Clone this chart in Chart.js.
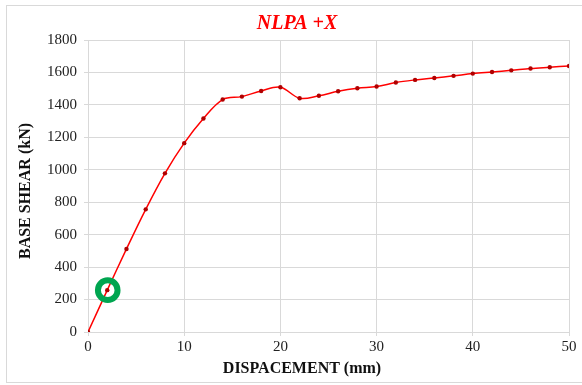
<!DOCTYPE html>
<html>
<head>
<meta charset="utf-8">
<script src="https://cdn.jsdelivr.net/npm/chart.js@4"></script>
<style>
  html, body { margin: 0; padding: 0; background: #fff; }
  #wrap { width: 582px; height: 385px; }
</style>
</head>
<body>
<div id="wrap"><canvas id="pushover" width="582" height="385"></canvas></div>
<script>
// dados da curva pushover (deslocamento em mm, cortante na base em kN)
const displacement = [0, 2, 4, 6, 8, 10, 12, 14, 16, 18, 20, 22, 24, 26, 28, 30, 32, 34, 36, 38, 40, 42, 44, 46, 48, 50];
const baseShear = [0, 258, 512, 756, 978, 1164, 1316, 1433, 1451, 1486, 1509, 1441, 1456, 1484, 1503, 1513, 1538, 1554, 1566, 1579, 1593, 1603, 1613, 1624, 1632, 1640];
const xTicks = [0, 10, 20, 30, 40, 50];
const yTicks = [0, 200, 400, 600, 800, 1000, 1200, 1400, 1600, 1800];
const chartTitle = 'NLPA +X';
const xTitle = 'DISPACEMENT (mm)';
const yTitle = 'BASE SHEAR (kN)';
const markedIndex = 1; // ponto destacado com o círculo verde

const serif = "'Liberation Serif', 'Times New Roman', serif";

// moldura externa do gráfico
const framePlugin = {
  id: 'frame',
  beforeDraw(chart) {
    const ctx = chart.ctx;
    ctx.save();
    ctx.fillStyle = '#fff';
    ctx.fillRect(0, 0, chart.width, chart.height);
    ctx.strokeStyle = '#d9d9d9';
    ctx.lineWidth = 1;
    ctx.strokeRect(6.5, 5.5, 600, 377);
    ctx.restore();
  }
};

// títulos dos eixos (posicionados como no Excel, centrados na área toda)
const axisTitlesPlugin = {
  id: 'axisTitles',
  afterDraw(chart) {
    const ctx = chart.ctx;
    ctx.save();
    ctx.fillStyle = '#111';
    ctx.font = 'bold 16px ' + serif;
    ctx.textAlign = 'center';
    ctx.textBaseline = 'middle';
    ctx.fillText(xTitle, 302, 369);
    ctx.translate(26, 191);
    ctx.rotate(-Math.PI / 2);
    ctx.fillText(yTitle, 0, 0);
    ctx.restore();
  }
};

// círculo verde em volta do ponto marcado
const markerPlugin = {
  id: 'marker',
  afterDatasetsDraw(chart) {
    const pt = chart.getDatasetMeta(0).data[markedIndex];
    if (!pt) return;
    const ctx = chart.ctx;
    ctx.save();
    ctx.beginPath();
    ctx.arc(pt.x + 0.5, pt.y, 9.8, 0, Math.PI * 2);
    ctx.strokeStyle = '#00a550';
    ctx.lineWidth = 6;
    ctx.stroke();
    ctx.restore();
  }
};

const ctx = document.getElementById('pushover');

new Chart(ctx, {
  type: 'line',
  data: {
    datasets: [{
      label: chartTitle,
      data: displacement.map((d, i) => ({ x: d, y: baseShear[i] })),
      borderColor: '#ff0000',
      borderWidth: 1.5,
      backgroundColor: '#b00000',
      pointBackgroundColor: '#b00000',
      pointBorderColor: '#b00000',
      pointRadius: 2.2,
      pointBorderWidth: 0,
      tension: 0.35,
      fill: false
    }]
  },
  options: {
    responsive: false,
    animation: false,
    layout: { padding: { top: 6, left: 25, right: 13, bottom: 0 } },
    plugins: {
      legend: { display: false },
      tooltip: { enabled: false },
      title: {
        display: true,
        text: chartTitle,
        color: '#ff0000',
        font: { family: serif, size: 20, weight: 'bold', style: 'italic' },
        padding: { top: 6, bottom: 4 }
      }
    },
    scales: {
      x: {
        type: 'linear',
        min: 0,
        max: 50,
        afterBuildTicks(scale) {
          scale.ticks = xTicks.map(v => ({ value: v }));
        },
        afterFit(scale) { scale.height = 53; },
        grid: { color: '#d9d9d9', tickLength: 4 },
        border: { color: '#d9d9d9' },
        ticks: {
          color: '#222',
          font: { family: serif, size: 15 },
          padding: 2,
          maxRotation: 0,
          callback: v => String(v)
        }
      },
      y: {
        type: 'linear',
        min: 0,
        max: 1800,
        afterBuildTicks(scale) {
          scale.ticks = yTicks.map(v => ({ value: v }));
        },
        afterFit(scale) { scale.width = 63; },
        grid: { color: '#d9d9d9', tickLength: 4 },
        border: { color: '#d9d9d9' },
        ticks: {
          color: '#222',
          font: { family: serif, size: 15 },
          padding: 7,
          callback: v => String(v)
        }
      }
    }
  },
  plugins: [framePlugin, axisTitlesPlugin, markerPlugin]
});
</script>
</body>
</html>
